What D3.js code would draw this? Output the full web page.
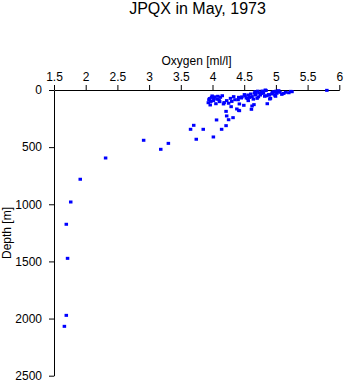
<!DOCTYPE html>
<html><head><meta charset="utf-8">
<script src="https://cdn.jsdelivr.net/npm/d3@7"></script>
<style>
body{margin:0;background:#fff;}
svg text{font-family:"Liberation Sans",Arial,Helvetica,sans-serif;fill:#000;}
</style></head>
<body><svg id="c" width="345" height="384"></svg>
<script>
const title = "JPQX in May, 1973";
const xLabel = "Oxygen [ml/l]";
const yLabel = "Depth [m]";
const xTicks = [1.5, 2, 2.5, 3, 3.5, 4, 4.5, 5, 5.5, 6];
const yTicks = [0, 500, 1000, 1500, 2000, 2500];
const oxygen = [1.69,1.71,1.76,1.91,2.31,2.91,3.18,3.30,3.65,3.70,3.74,1.69,1.66,
  3.85,4.01,4.06,4.14,4.21,4.21,4.22,4.25,4.32,4.41,4.38,4.49,4.61,4.65,4.86,4.90,5.25,5.80,
  3.99,3.93,3.96,4.01,4.07,4.12,4.11,4.17,4.22,4.28,4.25,4.29,4.33,4.41,4.42,4.51,4.56,4.56,4.62,4.62,
  4.67,4.67,4.70,4.75,4.78,4.80,4.83,4.91,4.93,4.96,5.01,5.04,5.09,5.20,4.42,
  3.95,4.03,4.10,4.15,4.35,4.45,4.58,4.72,4.85,4.98,5.06,4.68,4.77,4.88,4.53,4.64,4.99,5.12,
  3.97,4.05,4.18,4.30,4.40,4.55,4.73,4.82,4.94,5.03,
  3.94,3.98,4.02,4.08,4.46,4.50,4.60,4.66,4.71,4.76,4.79,4.84,4.89,4.95,5.00,5.15,5.23];
const depth = [1175,1473,980,781,595,440,519,467,344,309,431,1972,2068,
  344,411,262,344,312,187,227,260,242,178,166,134,169,128,120,79,15,3,
  52,111,131,93,81,64,102,122,93,73,116,146,58,64,122,52,44,93,58,140,
  15,44,73,44,9,29,0,73,35,15,29,6,38,24,181,
  75,60,88,50,85,70,65,60,50,45,20,30,20,40,70,80,55,30,
  100,120,110,100,85,75,25,55,20,12,
  85,65,75,55,60,40,35,25,10,30,15,5,45,25,10,20,12];

const svg = d3.select("#c");
const x = d3.scaleLinear().domain([1.5, 6]).range([54, 339.3]);
const y = d3.scaleLinear().domain([0, 2500]).range([90, 375.7]);

svg.append("text").attr("x", 197.5).attr("y", 14).attr("text-anchor", "middle")
  .attr("font-size", 16).text(title);

const xAxis = svg.append("g").attr("transform", "translate(0,90)")
  .call(d3.axisTop(x).tickValues(xTicks).tickSize(5).tickSizeOuter(0).tickPadding(4)
    .tickFormat(d3.format("")));
const yAxis = svg.append("g").attr("transform", "translate(54,0)")
  .call(d3.axisLeft(y).tickValues(yTicks).tickSize(5).tickSizeOuter(0).tickPadding(7)
    .tickFormat(d3.format("")));
[xAxis, yAxis].forEach(a => {
  a.selectAll("text").attr("font-size", 12).attr("font-family", '"Liberation Sans",Arial,sans-serif').attr("fill", "#000");
  a.selectAll("line,path").attr("stroke", "#000").attr("stroke-width", 1);
});

svg.append("text").attr("x", 196.5).attr("y", 65).attr("text-anchor", "middle")
  .attr("font-size", 12).text(xLabel);
svg.append("text").attr("transform", "translate(11,233) rotate(-90)")
  .attr("text-anchor", "middle").attr("font-size", 12).text(yLabel);

svg.append("g").selectAll("rect").data(oxygen.map((o, i) => [o, depth[i]])).join("rect")
  .attr("x", d => x(d[0]) - 1.5).attr("y", d => y(d[1]) - 1.5)
  .attr("width", 3.5).attr("height", 3).attr("fill", "#0000ff");
</script></body></html>
